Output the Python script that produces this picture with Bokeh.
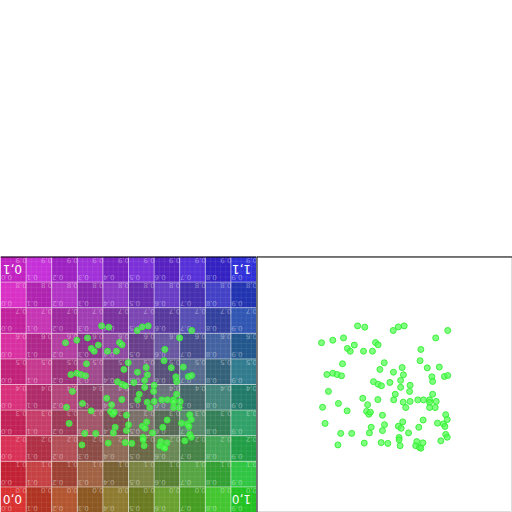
import math
from bokeh.plotting import figure
from bokeh.layouts import column, row
from bokeh.models import Spacer, Span
from bokeh.core.properties import value
from bokeh.embed import file_html
from bokeh.resources import INLINE

# scatter points (same set drawn in both panels), fractions of the panel
pts_x = [0.395, 0.423, 0.534, 0.554, 0.577, 0.700, 0.747, 0.254, 0.298, 0.340,
         0.382, 0.355, 0.366, 0.418, 0.453, 0.465, 0.475, 0.642, 0.639, 0.499,
         0.336, 0.482, 0.275, 0.298, 0.315, 0.332, 0.535, 0.569, 0.574, 0.667,
         0.714, 0.685, 0.688, 0.734, 0.747, 0.457, 0.475, 0.488, 0.521, 0.563,
         0.563, 0.600, 0.598, 0.542, 0.281, 0.688, 0.415, 0.434, 0.474, 0.536,
         0.573, 0.600, 0.630, 0.652, 0.676, 0.702, 0.676, 0.676, 0.698, 0.583,
         0.258, 0.320, 0.354, 0.430, 0.439, 0.445, 0.492, 0.739, 0.745, 0.651,
         0.571, 0.707, 0.730, 0.736, 0.268, 0.500, 0.554, 0.565, 0.634, 0.448,
         0.492, 0.441, 0.329, 0.372, 0.594, 0.739, 0.745, 0.557, 0.557, 0.720,
         0.318, 0.421, 0.487, 0.513, 0.561, 0.626, 0.650, 0.622, 0.637, 0.642]
pts_y = [0.729, 0.724, 0.711, 0.725, 0.729, 0.682, 0.711, 0.663, 0.673, 0.682,
         0.654, 0.641, 0.630, 0.630, 0.630, 0.664, 0.655, 0.637, 0.593, 0.585,
         0.581, 0.559, 0.539, 0.544, 0.539, 0.534, 0.548, 0.566, 0.538, 0.565,
         0.568, 0.530, 0.512, 0.531, 0.535, 0.511, 0.501, 0.495, 0.508, 0.516,
         0.489, 0.497, 0.473, 0.462, 0.473, 0.462, 0.446, 0.421, 0.441, 0.440,
         0.431, 0.434, 0.440, 0.440, 0.440, 0.434, 0.430, 0.410, 0.410, 0.410,
         0.411, 0.426, 0.397, 0.395, 0.384, 0.392, 0.380, 0.382, 0.363, 0.361,
         0.354, 0.349, 0.346, 0.336, 0.348, 0.343, 0.337, 0.329, 0.333, 0.333,
         0.320, 0.311, 0.309, 0.309, 0.311, 0.305, 0.294, 0.293, 0.284, 0.280,
         0.264, 0.271, 0.273, 0.270, 0.261, 0.277, 0.272, 0.261, 0.254, 0.251]

# texture labels
cell_labels = ["0.0", "0.1", "0.2", "0.3", "0.4", "0.5", "0.6", "0.7", "0.8", "0.9"]
corner_labels = ["0,0", "1,0", "0,1", "1,1"]

N = 10
W = 256
px = 1.0 / W


def tex_color(i, j):
    x = i / (N - 1)
    y = j / (N - 1)
    c = (1 - x, x * (1 - y), y)
    if (i + j) % 2 == 0:
        c = [0.66 * v + 0.19 for v in c]
    else:
        c = [0.63 * v + 0.13 for v in c]
    return "#%02x%02x%02x" % tuple(int(round(min(1, v) * 255)) for v in c)


def base_fig():
    p = figure(width=W, height=W, x_range=(0, 1), y_range=(0, 1),
               output_backend="svg", toolbar_location=None, min_border=0)
    p.axis.visible = False
    p.grid.visible = False
    p.background_fill_color = "white"
    p.border_fill_color = "white"
    return p


def draw_points(p):
    p.scatter(x=pts_x, y=pts_y, size=6, fill_color="#55ff55", fill_alpha=0.75,
              line_color="#33ee33", line_alpha=0.9, line_width=1)


# ---- left panel: flipped texture with points ----
p1 = base_fig()
p1.outline_line_color = None
left, right, bottom, top, colors = [], [], [], [], []
for i in range(N):
    for j in range(N):
        left.append(i / N)
        right.append((i + 1) / N)
        bottom.append(j / N)
        top.append((j + 1) / N)
        colors.append(tex_color(i, j))
p1.quad(left=left, right=right, bottom=bottom, top=top, fill_color=colors,
        line_color=None)

# faint sub grid
sub = [k / 50 for k in range(1, 50)]
p1.segment(x0=sub, y0=[0] * len(sub), x1=sub, y1=[1] * len(sub),
           line_color="white", line_alpha=0.07, line_width=1)
p1.segment(x0=[0] * len(sub), y0=sub, x1=[1] * len(sub), y1=sub,
           line_color="white", line_alpha=0.07, line_width=1)
# cell boundaries
cb = [k / N for k in range(1, N)]
p1.segment(x0=cb, y0=[0] * len(cb), x1=cb, y1=[1] * len(cb),
           line_color="white", line_alpha=0.45, line_width=1)
p1.segment(x0=[0] * len(cb), y0=cb, x1=[1] * len(cb), y1=cb,
           line_color="white", line_alpha=0.45, line_width=1)

# cell labels (flipped look via 180 degree rotation)
lx, ly, lt = [], [], []
for i in range(N):
    for j in range(N):
        lx.append(i / N + 6 * px)
        ly.append(j / N + 4 * px)
        lt.append(cell_labels[i])
        lx.append((i + 1) / N - 5 * px)
        ly.append((j + 1) / N - 4 * px)
        lt.append(cell_labels[j])
p1.text(x=lx, y=ly, text=lt, angle=math.pi, text_align="center",
        text_baseline="middle", text_font_size="7px", text_color="white",
        text_alpha=0.42, text_font=value("DejaVu Sans"))

cx = [12 * px, 1 - 15 * px, 12 * px, 1 - 15 * px]
cy = [13 * px, 13 * px, 1 - 13 * px, 1 - 13 * px]
p1.text(x=cx, y=cy, text=corner_labels, angle=math.pi, text_align="center",
        text_baseline="middle", text_font_size="12px", text_color="white",
        text_font=value("DejaVu Sans"))

draw_points(p1)
p1.add_layout(Span(location=1, dimension="width", line_color="black", line_width=2))

# ---- right panel: points on white ----
p2 = base_fig()
p2.outline_line_color = "#dddddd"
draw_points(p2)
p2.add_layout(Span(location=1, dimension="width", line_color="black", line_width=2))
p2.add_layout(Span(location=0, dimension="height", line_color="black", line_width=2))

layout = column(Spacer(width=512, height=256), row(p1, p2))
open("out.html", "w").write(file_html(layout, INLINE))
